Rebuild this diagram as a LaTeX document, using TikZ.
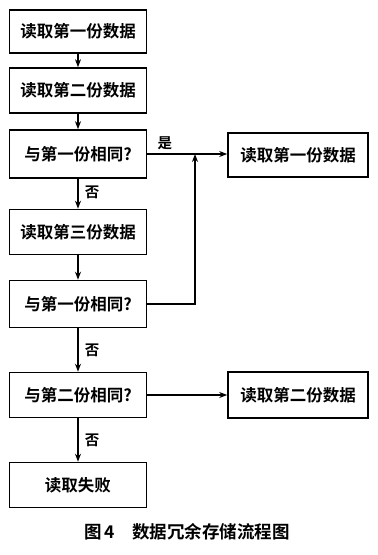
\documentclass[tikz,border=0pt]{standalone}
\usepackage{fontspec}
\setmainfont{Noto Sans CJK SC}[BoldFont={Noto Sans CJK SC Bold}]
\usetikzlibrary{arrows.meta}
\begin{document}
\begin{tikzpicture}[x=1pt,y=-1pt,
  box/.style={draw,line width=1.6pt,minimum width=137pt,inner sep=0pt,font=\fontsize{16.5}{18}\selectfont\bfseries},
  arr/.style={line width=1.3pt,-{Stealth[length=8pt,width=6pt]}},
  lab/.style={font=\fontsize{14.5}{16}\selectfont\bfseries}]
\useasboundingbox (0,0) rectangle (378,555);
\node[box,minimum height=43pt] (b1) at (78,31.5) {读取第一份数据};
\node[box,minimum height=45pt] (b2) at (78,90.5) {读取第二份数据};
\node[box,minimum height=48pt] (b3) at (78,154) {与第一份相同?};
\node[box,minimum height=45pt] (b4) at (78,232) {读取第三份数据};
\node[box,minimum height=47pt] (b5) at (78,304) {与第一份相同?};
\node[box,minimum height=45pt] (b6) at (78,395) {与第二份相同?};
\node[box,minimum height=45pt] (b7) at (78,485) {读取失败};
\node[box,minimum width=140pt,minimum height=44pt] (r1) at (298,155) {读取第一份数据};
\node[box,minimum width=140pt,minimum height=46pt] (r2) at (298,395) {读取第二份数据};
\coordinate (j) at (195,154);
\draw[arr] (b1) -- (b2);
\draw[arr] (b2) -- (b3);
\draw[arr] (b3) -- node[lab,right,pos=0.45,xshift=3pt]{否} (b4);
\draw[arr] (b4) -- (b5);
\draw[arr] (b5) -- node[lab,right,pos=0.5,xshift=3pt]{否} (b6);
\draw[arr] (b6) -- node[lab,right,pos=0.5,xshift=3pt]{否} (b7);
\draw[arr] (b3.east) -- node[lab,above,pos=0.22]{是} (b3.east -| r1.west);
\draw[arr] (b5.east) -| (j);
\draw[arr] (b6.east) -- (b6.east -| r2.west);
\node[font=\fontsize{17.5}{19}\selectfont\bfseries] (cap) at (187,532) {图\,4\quad 数据冗余存储流程图};
\end{tikzpicture}
\end{document}
